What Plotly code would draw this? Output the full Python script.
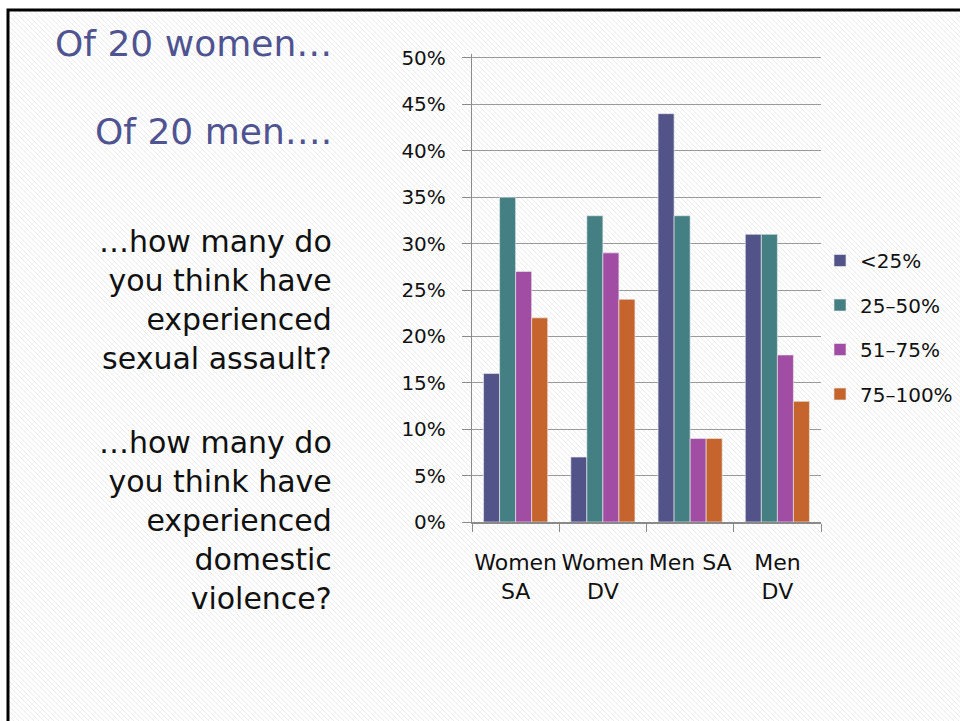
import base64
import plotly.graph_objects as go

# ---- data ----
categories = ["Women<br>SA", "Women<br>DV", "Men SA", "Men<br>DV"]
series_names = ["<25%", "25–50%", "51–75%", "75–100%"]
lt25 = [0.16, 0.07, 0.44, 0.31]
p25_50 = [0.35, 0.33, 0.33, 0.31]
p51_75 = [0.27, 0.29, 0.09, 0.18]
p75_100 = [0.22, 0.24, 0.09, 0.13]
series_values = [lt25, p25_50, p51_75, p75_100]
colors = ["#525489", "#437F83", "#A04DA3", "#C5652D"]
ytick_vals = [0, 0.05, 0.10, 0.15, 0.20, 0.25, 0.30, 0.35, 0.40, 0.45, 0.50]

W, H = 960, 721
L, R, T, B = 472, 139, 54, 199
pw, ph = W - L - R, H - T - B

def fx(px):
    return (px - L) / pw

def fy(py):
    return (H - B - py) / ph

FONT = "DejaVu Sans"

fig = go.Figure()
for i, (name, vals, col) in enumerate(zip(series_names, series_values, colors)):
    fig.add_trace(go.Bar(
        x=categories, y=vals, name=name,
        marker=dict(color=col, line=dict(color="rgba(235,235,235,0.8)", width=0.8)),
        legendgroup=f"g{i}",
    ))

# hatch background
hx, hy = 8, 10
iw, ih = W - hx, H - hy
svg = (
    f'<svg xmlns="http://www.w3.org/2000/svg" width="{iw}" height="{ih}" viewBox="0 0 {iw} {ih}">'
    '<defs><pattern id="p" width="5" height="5" patternUnits="userSpaceOnUse">'
    '<rect width="5" height="5" fill="#ffffff"/>'
    '<path d="M-1,-1 L6,6 M-1,4 L1,6 M4,-1 L6,1" stroke="#ebebeb" stroke-width="1"/>'
    '</pattern></defs>'
    f'<rect width="{iw}" height="{ih}" fill="url(#p)"/></svg>'
)
src = "data:image/svg+xml;base64," + base64.b64encode(svg.encode()).decode()

fig.update_layout(
    width=W, height=H,
    margin=dict(l=L, r=R, t=T, b=B, autoexpand=False),
    paper_bgcolor="white",
    plot_bgcolor="rgba(0,0,0,0)",
    barmode="group",
    bargap=0.265,
    bargroupgap=0,
    font=dict(family=FONT, color="#111111", size=20),
    showlegend=True,
    legend=dict(
        x=fx(820), xanchor="left", y=fy(241), yanchor="top",
        bgcolor="rgba(0,0,0,0)", font=dict(size=20, family=FONT, color="#111111"),
        tracegroupgap=15.5, traceorder="grouped",
    ),
    images=[dict(
        source=src, xref="paper", yref="paper",
        x=fx(hx), y=fy(hy), sizex=iw / pw, sizey=ih / ph,
        xanchor="left", yanchor="top", sizing="stretch", layer="below",
    )],
    shapes=[dict(
        type="rect", xref="paper", yref="paper",
        x0=fx(8), y0=fy(10), x1=fx(980), y1=fy(740),
        line=dict(color="black", width=3), fillcolor="rgba(0,0,0,0)", layer="above",
    )],
)

fig.update_yaxes(
    range=[0, 0.5043], tickvals=ytick_vals, tickformat=".0%",
    showgrid=True, gridcolor="#9a9a9a", gridwidth=1.3,
    showline=True, linecolor="#8a8a8a", linewidth=1.3,
    ticks="outside", ticklen=9, tickcolor="#8a8a8a", tickwidth=1.3,
    ticklabelstandoff=12,
    tickfont=dict(size=20, family=FONT, color="#111111"),
    zeroline=False, fixedrange=True,
)
fig.update_xaxes(
    showline=True, linecolor="#8a8a8a", linewidth=2,
    ticks="outside", tickson="boundaries", ticklen=8, tickcolor="#8a8a8a", tickwidth=1.3,
    ticklabelstandoff=20,
    tickfont=dict(size=22, family=FONT, color="#111111"),
    tickangle=0, showgrid=False, fixedrange=True,
)

blue = "#4F5391"
anns = [
    ("Of 20 women…", 43, 36, blue),
    ("Of 20 men….", 131, 36, blue),
    ("…how many do<br>you think have<br>experienced<br>sexual assault?", 300, 30, "#111111"),
    ("…how many do<br>you think have<br>experienced<br>domestic<br>violence?", 520, 30, "#111111"),
]
for text, yc, size, col in anns:
    fig.add_annotation(
        text=text, xref="paper", yref="paper", x=fx(334), y=fy(yc),
        xanchor="right", yanchor="middle", align="right", showarrow=False,
        font=dict(family=FONT, size=size, color=col),
    )

fig.write_html(
    "out.html",
    config={"displayModeBar": False},
    post_script="document.body.style.margin='0';document.body.style.overflow='hidden';",
)
